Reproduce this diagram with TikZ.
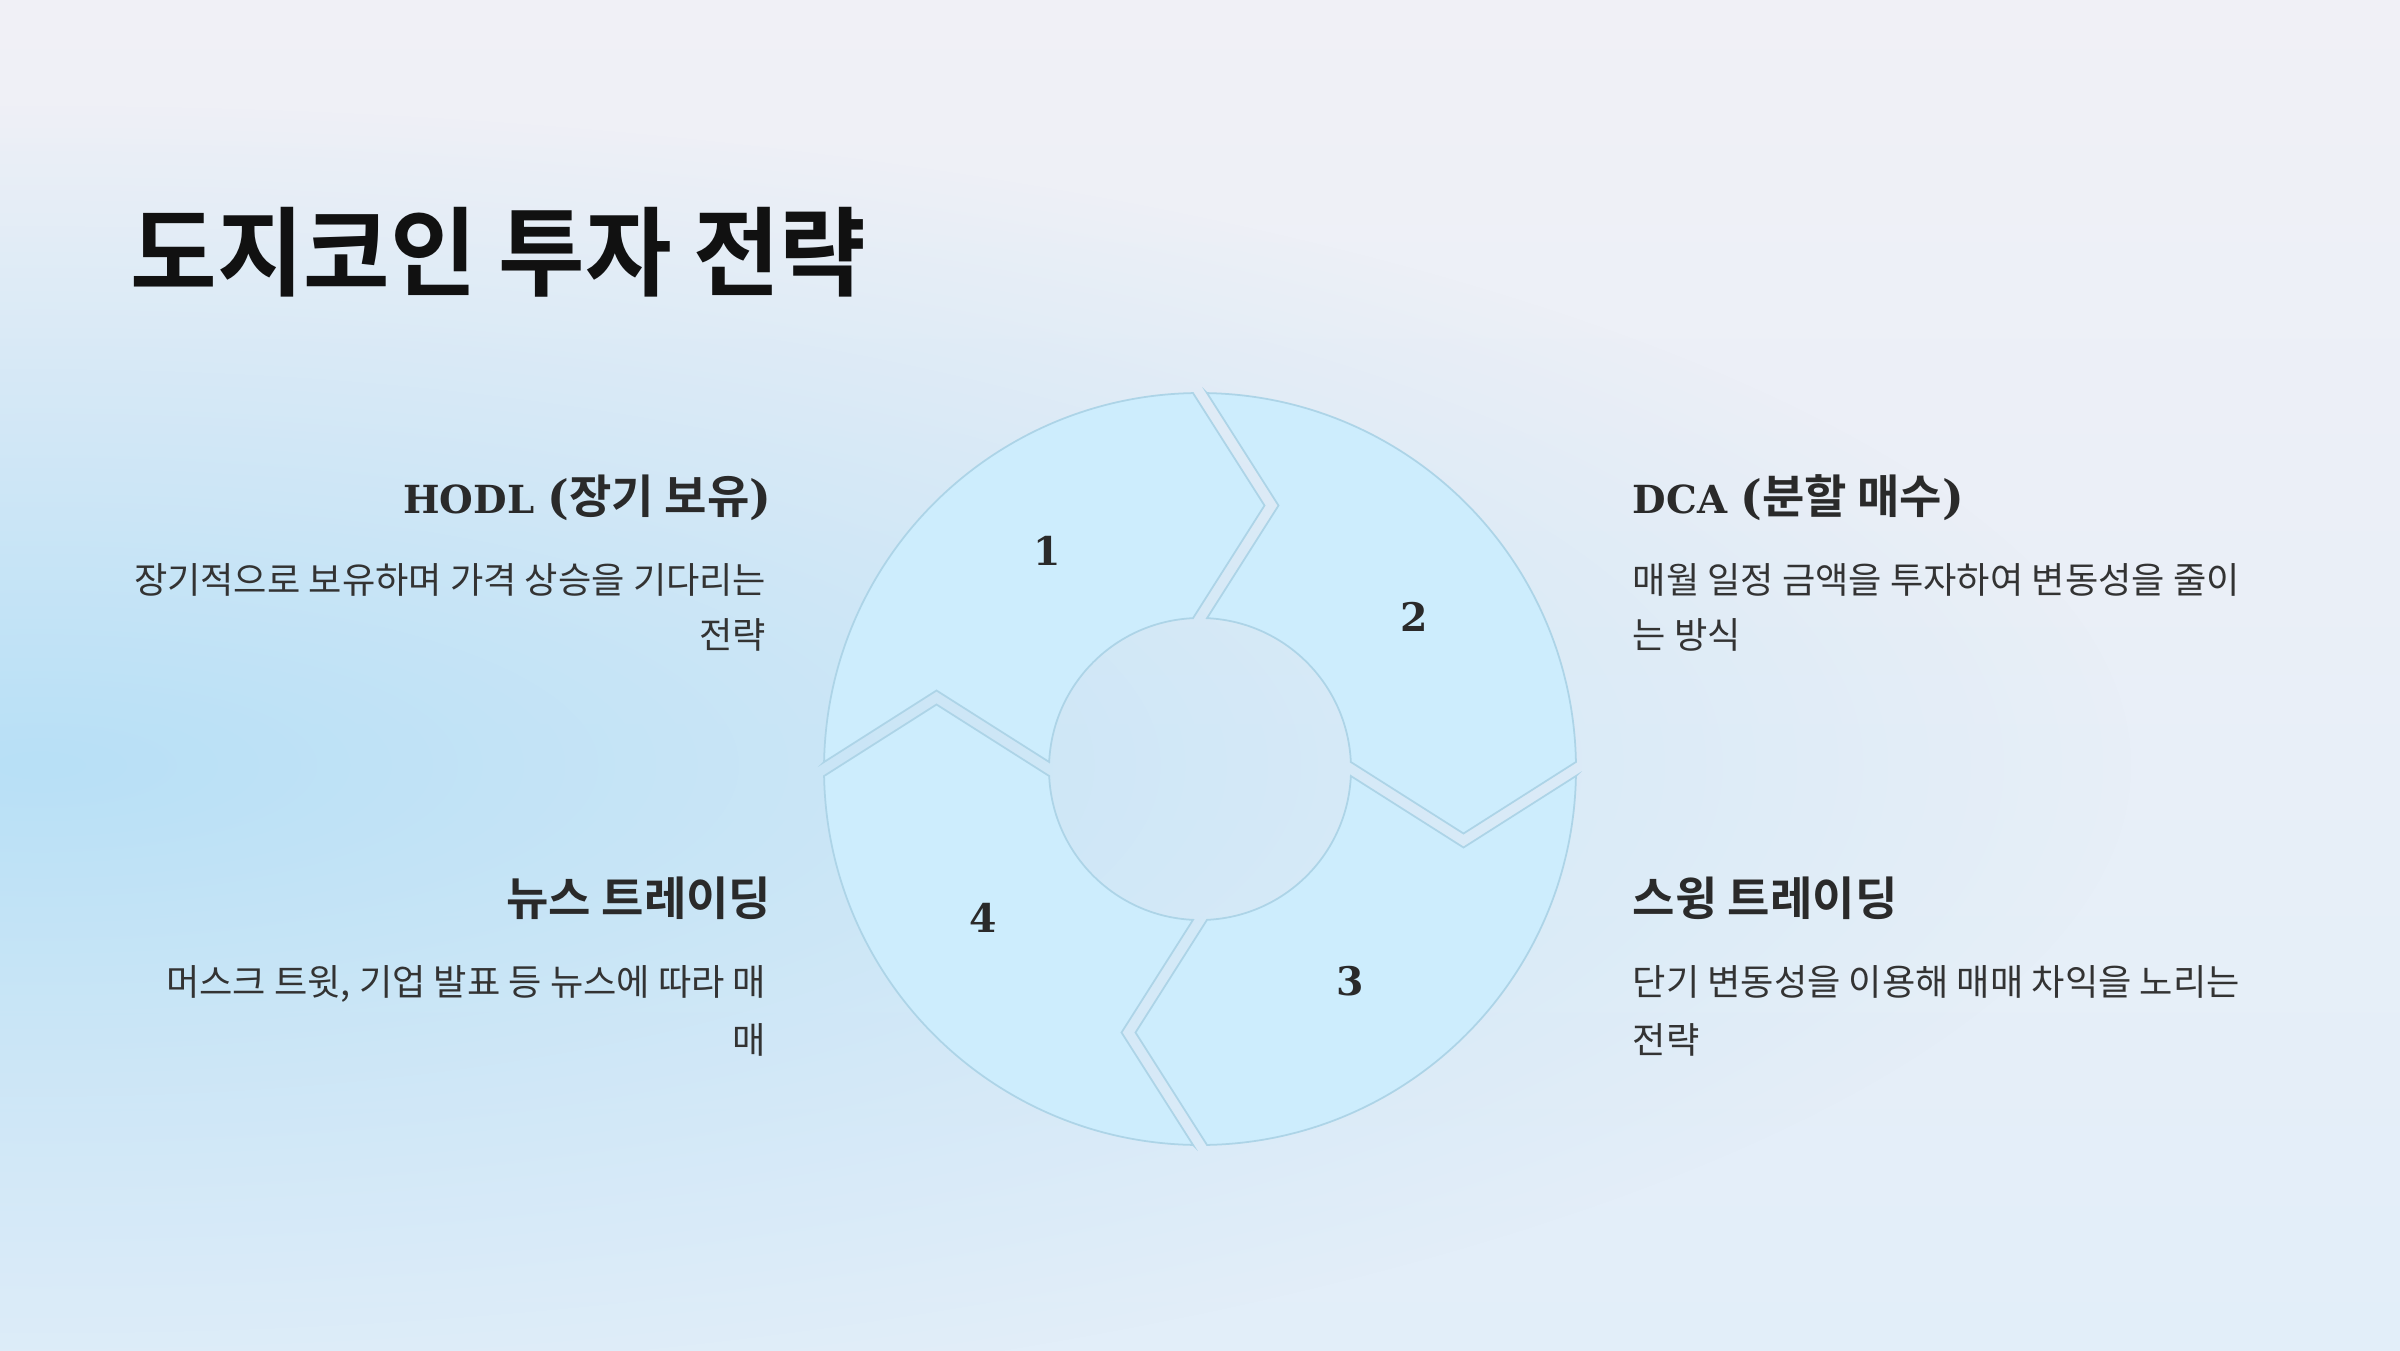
\documentclass[tikz,border=0pt]{standalone}
\usepackage{fontspec}
\setmainfont{DejaVu Serif}
\newfontfamily\kr{Noto Sans CJK KR}[BoldFont={* Bold}]
\newfontfamily\krtitle{Noto Sans CJK KR}[BoldFont={* Bold}, FakeStretch=0.97, BoldFeatures={FakeStretch=0.97}]
\usetikzlibrary{fadings}
\definecolor{bgtop}{HTML}{F0F0F6}
\definecolor{bgbot}{HTML}{E2EEF9}
\definecolor{blobcol}{HTML}{B8E0F6}
\definecolor{piecefill}{HTML}{CDEDFD}
\definecolor{piecedraw}{HTML}{ADD4E7}
\definecolor{titlecol}{HTML}{111111}
\definecolor{headcol}{HTML}{2A2A2A}
\definecolor{bodycol}{HTML}{333333}
\tikzfading[name=softfade, inner color=transparent!0, outer color=transparent!100]
\newcommand\latpart[1]{{\fontsize{11}{13}\selectfont #1}}
\begin{document}
\begin{tikzpicture}[x=0.01cm, y=0.01cm,
  piece/.style={fill=piecefill, draw=piecedraw, line width=0.5pt, line join=miter},
  num/.style={font=\bfseries\fontsize{11.2}{14}\selectfont, text=headcol, inner sep=0pt},
  titletext/.style={font=\krtitle\bfseries\fontsize{27.6}{34}\selectfont, text=titlecol, inner sep=0pt},
  headtext/.style={font=\bfseries\fontsize{13.1}{16}\selectfont, text=headcol, inner sep=0pt},
  krhead/.style={font=\kr\bfseries\fontsize{13.1}{16}\selectfont, text=headcol, inner sep=0pt},
  bodytext/.style={font=\kr\fontsize{10.3}{13}\selectfont, text=bodycol, inner sep=0pt}]
\useasboundingbox (0,0) rectangle (2400,1350);
\shade[top color=bgtop, bottom color=bgbot] (0,0) rectangle (2400,1350);
\begin{scope}
\clip (0,0) rectangle (2400,1350);
\fill[blobcol, path fading=softfade] (40,585) ellipse [x radius=2100, y radius=660];
\end{scope}

% ring of four arrow segments
\begin{scope}[shift={(1200,581)}]
\foreach \k in {0,1,2,3} {
  \begin{scope}[rotate=-90*\k]
  \filldraw[piece] (-375.93,7) -- (-263.5,78.5) -- (-150.84,7)
    arc[start angle=177.343, end angle=92.657, radius=151]
    -- (64.5,263.5) -- (-7,375.93)
    arc[start angle=91.067, end angle=178.933, radius=376] -- cycle;
  \end{scope}
}
\end{scope}

\node[num] (n1) at (1047,799) {1};
\node[num] (n2) at (1414,733) {2};
\node[num] (n3) at (1350,369) {3};
\node[num] (n4) at (983,432) {4};

\node[titletext, anchor=base west] (title) at (130,1062) {도지코인 투자 전략};

\node[headtext, anchor=base east] (h1) at (772,837) {\latpart{HODL }({\kr 장기 보유})};
\node[bodytext, anchor=base east] (b1a) at (767,757) {장기적으로 보유하며 가격 상승을 기다리는};
\node[bodytext, anchor=base east] (b1b) at (767,702) {전략};

\node[headtext, anchor=base west] (h2) at (1632,837) {\latpart{DCA }({\kr 분할 매수})};
\node[bodytext, anchor=base west] (b2a) at (1632,757) {매월 일정 금액을 투자하여 변동성을 줄이};
\node[bodytext, anchor=base west] (b2b) at (1632,702) {는 방식};

\node[krhead, anchor=base west] (h3) at (1632,435) {스윙 트레이딩};
\node[bodytext, anchor=base west] (b3a) at (1632,355) {단기 변동성을 이용해 매매 차익을 노리는};
\node[bodytext, anchor=base west] (b3b) at (1632,297) {전략};

\node[krhead, anchor=base east] (h4) at (772,435) {뉴스 트레이딩};
\node[bodytext, anchor=base east] (b4a) at (767,355) {머스크 트윗, 기업 발표 등 뉴스에 따라 매};
\node[bodytext, anchor=base east] (b4b) at (767,297) {매};
\end{tikzpicture}
\end{document}
